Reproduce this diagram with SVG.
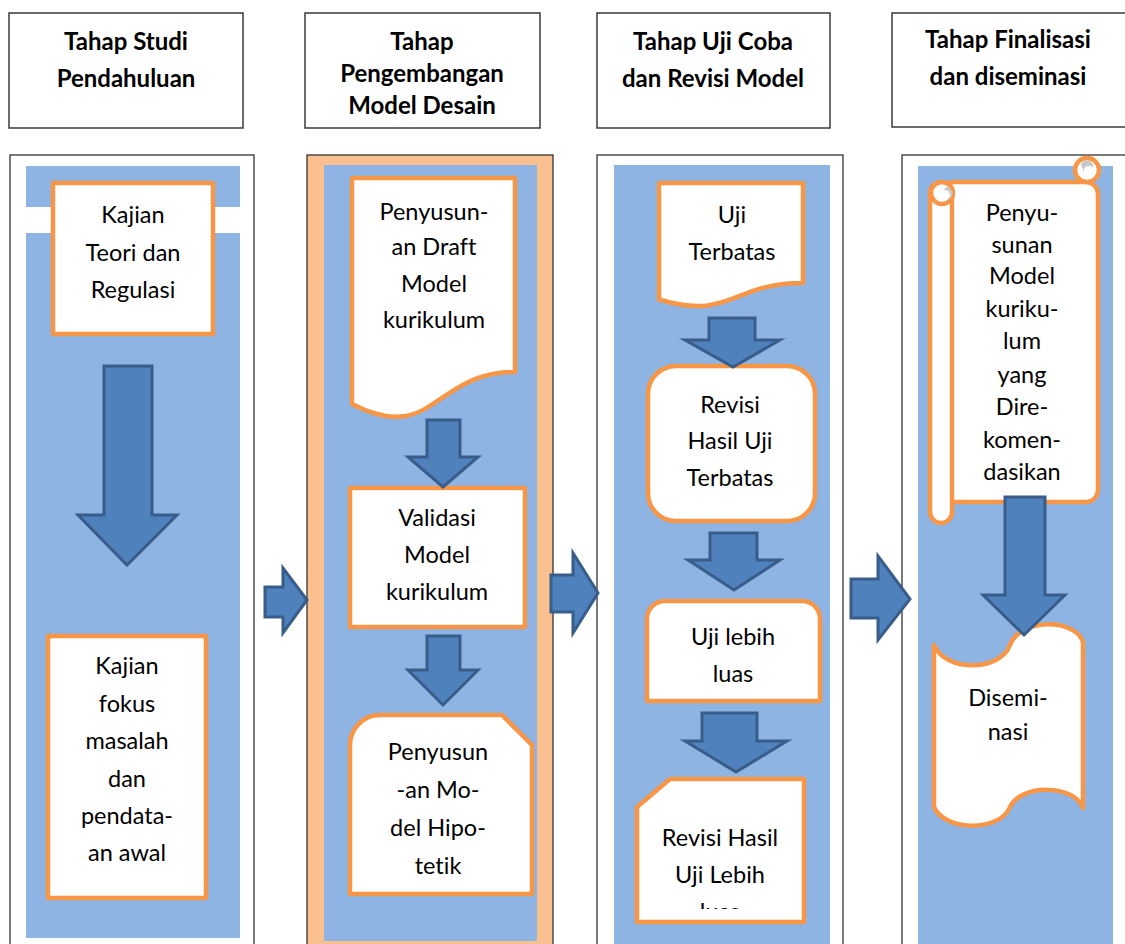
<svg xmlns="http://www.w3.org/2000/svg" width="1125" height="944" viewBox="0 0 1125 944">
<defs>
<style>
.hdr{fill:#fff;stroke:#3a3a3a;stroke-width:1.5}
.col{fill:#fff;stroke:#333;stroke-width:1.3}
.blue{fill:#8EB4E3}
.peach{fill:#FAC090;stroke:#333;stroke-width:1.3}
.nd{fill:#fff;stroke:#F79646;stroke-width:4.5;stroke-linejoin:round}
.arr{fill:#4F81BD;stroke:#385D8A;stroke-width:3;stroke-linejoin:miter}
.curl{fill:#C8C8C8}
text{font-family:Lato,"Liberation Sans",sans-serif;font-size:23.5px;fill:#000;text-anchor:middle;font-variant-ligatures:none;font-feature-settings:"liga" 0}
.h{font-weight:bold;font-size:24px}
</style>
<clipPath id="clipLuas"><rect x="637" y="779" width="167" height="130"/></clipPath>
</defs>

<g id="headers">
<g id="header-1"><rect class="hdr" x="9" y="13" width="234" height="115"/>
<text class="h" x="126" y="50">Tahap Studi</text><text class="h" x="126" y="87">Pendahuluan</text></g>
<g id="header-2"><rect class="hdr" x="305" y="13" width="235" height="115"/>
<text class="h" x="422" y="50">Tahap</text><text class="h" x="422" y="82">Pengembangan</text><text class="h" x="422" y="114">Model Desain</text></g>
<g id="header-3"><rect class="hdr" x="597" y="13" width="233" height="115"/>
<text class="h" x="713" y="50">Tahap Uji Coba</text><text class="h" x="713" y="87">dan Revisi Model</text></g>
<g id="header-4"><rect class="hdr" x="892" y="13" width="240" height="114"/>
<text class="h" x="1008" y="48">Tahap Finalisasi</text><text class="h" x="1008" y="85">dan diseminasi</text></g>
</g>

<g id="columns">
<g id="column-1"><rect class="col" x="10" y="155" width="244" height="800"/>
<rect class="blue" x="26" y="166" width="214" height="41"/>
<rect class="blue" x="26" y="233" width="214" height="705"/></g>
<g id="column-2"><rect class="peach" x="307" y="155" width="246" height="800"/>
<rect class="blue" x="324" y="165" width="213" height="776"/></g>
<g id="column-3"><rect class="col" x="597" y="155" width="246" height="800"/>
<rect class="blue" x="614" y="165" width="216" height="790"/></g>
<g id="column-4"><rect class="col" x="902" y="155" width="240" height="800"/>
<rect class="blue" x="918" y="166" width="195" height="790"/></g>
</g>

<g id="node-kajian-teori"><rect class="nd" x="53" y="183" width="160" height="151"/>
<text x="133" y="223">Kajian</text><text x="133" y="261">Teori dan</text><text x="133" y="298">Regulasi</text></g>

<g id="node-kajian-fokus"><rect class="nd" x="48" y="636" width="158" height="262"/>
<text x="127" y="674">Kajian</text><text x="127" y="712">fokus</text><text x="127" y="749">masalah</text><text x="127" y="787">dan</text><text x="127" y="824">pendata-</text><text x="127" y="861">an awal</text></g>

<g id="node-draft"><path class="nd" d="M352,178 L515,178 L515,372 C433.5,372 433.5,446 352,404 Z"/>
<text x="434" y="220">Penyusun-</text><text x="434" y="255">an Draft</text><text x="434" y="292">Model</text><text x="434" y="328">kurikulum</text></g>

<g id="node-validasi"><rect class="nd" x="350" y="488" width="175" height="139"/>
<text x="437" y="526">Validasi</text><text x="437" y="563">Model</text><text x="437" y="600">kurikulum</text></g>

<g id="node-hipotetik"><path class="nd" d="M350,894 L350,745 A30,30 0 0 1 380,715 L502,715 L532,745 L532,894 Z"/>
<text x="438" y="760">Penyusun</text><text x="438" y="798">-an Mo-</text><text x="438" y="836">del Hipo-</text><text x="438" y="874">tetik</text></g>

<g id="node-uji-terbatas"><path class="nd" d="M659,183 L803,183 L803,283 C731,283 731,321 659,299.5 Z"/>
<text x="732" y="223">Uji</text><text x="732" y="260">Terbatas</text></g>

<g id="node-revisi-terbatas"><rect class="nd" x="648" y="366" width="167" height="155" rx="28"/>
<text x="730" y="413">Revisi</text><text x="730" y="449">Hasil Uji</text><text x="730" y="486">Terbatas</text></g>

<g id="node-uji-luas"><path class="nd" d="M647,701 L647,619 A18,18 0 0 1 665,601 L802,601 A18,18 0 0 1 820,619 L820,701 Z"/>
<text x="733" y="645">Uji lebih</text><text x="733" y="682">luas</text></g>

<g id="node-revisi-luas"><path class="nd" d="M637,922 L637,807 L670,779 L804,779 L804,922 Z"/>
<g clip-path="url(#clipLuas)"><text x="720" y="846">Revisi Hasil</text><text x="720" y="883">Uji Lebih</text><text x="720" y="920">luas</text></g></g>

<g id="node-penyusunan-final">
<rect class="nd" x="942" y="182" width="156" height="320" rx="12"/>
<circle class="nd" cx="1087" cy="170" r="12"/>
<path class="curl" d="M1081,165 A6,6 0 0 1 1093,168 A5,5 0 0 0 1084,172 Z"/>
<rect class="nd" x="930" y="182" width="22" height="341" rx="11"/>
<circle class="nd" cx="942" cy="193" r="11"/>
<path class="curl" d="M946,187 A6,6 0 0 1 946,200 A5,5 0 0 0 944,190 Z"/>
<text x="1022" y="221">Penyu-</text><text x="1022" y="253">sunan</text><text x="1022" y="284">Model</text><text x="1022" y="317">kuriku-</text><text x="1022" y="349">lum</text><text x="1022" y="383">yang</text><text x="1022" y="415">Dire-</text><text x="1022" y="448">komen-</text><text x="1022" y="480">dasikan</text></g>

<g id="node-diseminasi"><path class="nd" d="M934,645 C945,672 1000,672 1010,645 C1020,618 1075,618 1083,642 L1083,808 C1075,784 1020,784 1010,807 C1000,832 945,832 934,807 Z"/>
<text x="1008" y="706">Disemi-</text><text x="1008" y="740">nasi</text></g>

<g id="connectors">
<path class="arr" d="M104,366 L152,366 L152,515 L177,515 L127,565 L78,515 L104,515 Z"/>
<path class="arr" d="M427,420 L460,420 L460,457 L478,457 L443,487 L408,457 L427,457 Z"/>
<path class="arr" d="M427,636 L460,636 L460,670 L478,670 L443,705 L408,670 L427,670 Z"/>
<path class="arr" d="M709,318 L755,318 L755,340 L780,340 L733,367 L685,340 L709,340 Z"/>
<path class="arr" d="M710,533 L757,533 L757,560 L780,560 L734,590 L688,560 L710,560 Z"/>
<path class="arr" d="M702,713 L757,713 L757,741 L787,741 L736,772 L685,741 L702,741 Z"/>
<path class="arr" d="M1005,497 L1045,497 L1045,595 L1065,595 L1024,635 L983,595 L1005,595 Z"/>
<path class="arr" d="M265,587 L283,587 L283,568 L307,600 L283,633 L283,617 L265,617 Z"/>
<path class="arr" d="M551,575 L573,575 L573,553 L598,593 L573,633 L573,612 L551,612 Z"/>
<path class="arr" d="M851,579 L878,579 L878,556 L910,599 L878,640 L878,618 L851,618 Z"/>
</g>
</svg>
